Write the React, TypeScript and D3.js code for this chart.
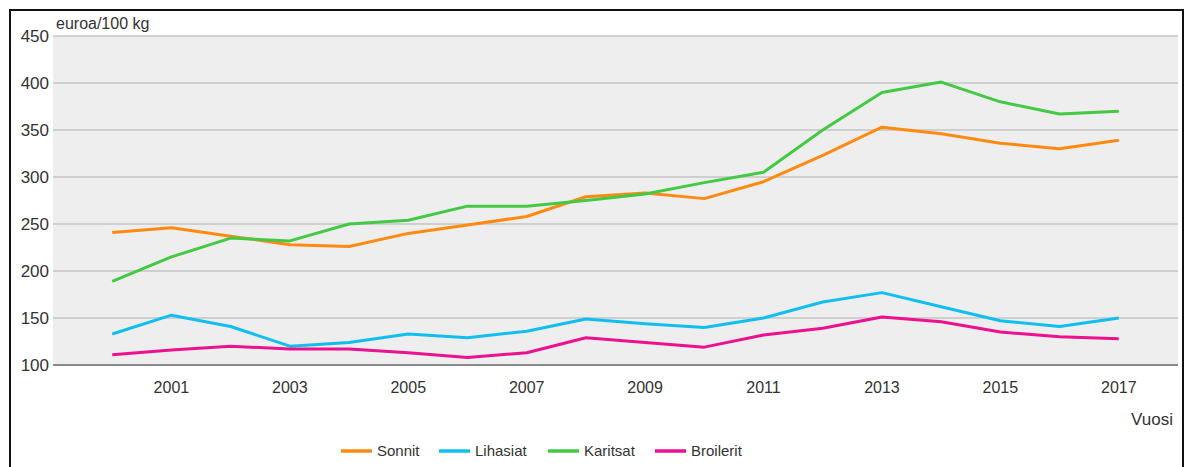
import React from 'react';
import * as d3 from 'd3';

const years = [2000, 2001, 2002, 2003, 2004, 2005, 2006, 2007, 2008, 2009, 2010, 2011, 2012, 2013, 2014, 2015, 2016, 2017];
const sonnit = [241, 246, 237, 228, 226, 240, 249, 258, 279, 283, 277, 295, 323, 353, 346, 336, 330, 339];
const lihasiat = [133, 153, 141, 120, 124, 133, 129, 136, 149, 144, 140, 150, 167, 177, 162, 147, 141, 150];
const karitsat = [189, 215, 235, 232, 250, 254, 269, 269, 275, 282, 294, 305, 350, 390, 401, 380, 367, 370];
const broilerit = [111, 116, 120, 117, 117, 113, 108, 113, 129, 124, 119, 132, 139, 151, 146, 135, 130, 128];
const yTicks = [100, 150, 200, 250, 300, 350, 400, 450];
const xTicks = [2001, 2003, 2005, 2007, 2009, 2011, 2013, 2015, 2017];

const series = [
  { name: 'Sonnit', values: sonnit, color: '#ff8a12' },
  { name: 'Lihasiat', values: lihasiat, color: '#10bff0' },
  { name: 'Karitsat', values: karitsat, color: '#44c944' },
  { name: 'Broilerit', values: broilerit, color: '#ec1190' },
];

const W = 1192;
const H = 467;
const plot = { left: 53, right: 1178, top: 36, bottom: 365 };
const font = '"Liberation Sans", Arial, sans-serif';

export default function App() {
  const x = d3.scaleLinear().domain([1999, 2018]).range([plot.left, plot.right]);
  const y = d3.scaleLinear().domain([100, 450]).range([plot.bottom, plot.top]);
  const line = d3.line<number>()
    .x((_, i) => x(years[i]))
    .y(d => y(d));

  const legendX = [341, 439, 548, 655];

  return (
    <svg width={W} height={H} style={{ position: 'fixed', top: 0, left: 0, display: 'block' }} fontFamily={font}>
      <rect x={0} y={0} width={W} height={H} fill="#ffffff" />
      {/* frame */}
      <rect x={10} y={10} width={1173} height={480} fill="none" stroke="#111" strokeWidth={2} />

      {/* plot background */}
      <rect x={plot.left} y={plot.top} width={plot.right - plot.left} height={plot.bottom - plot.top} fill="#eeeeee" />

      {/* grid */}
      {yTicks.map(t => (
        <g key={t}>
          {t !== 100 && (
            <line x1={plot.left} x2={plot.right} y1={y(t)} y2={y(t)} stroke="#c4c4c4" strokeWidth={1.5} />
          )}
          <text x={49} y={y(t)} dy="0.36em" textAnchor="end" fontSize={17} fill="#333">{t}</text>
        </g>
      ))}
      <line x1={plot.left} x2={plot.right} y1={plot.bottom} y2={plot.bottom} stroke="#8a8a8a" strokeWidth={2} />

      <text x={56} y={29} fontSize={16} fill="#333">euroa/100 kg</text>

      {xTicks.map(t => (
        <text key={t} x={x(t)} y={393} textAnchor="middle" fontSize={16} fill="#333">{t}</text>
      ))}
      <text x={1173} y={425} textAnchor="end" fontSize={17} fill="#333">Vuosi</text>

      {series.map(s => (
        <path key={s.name} d={line(s.values) || ''} fill="none" stroke={s.color} strokeWidth={3} strokeLinejoin="round" />
      ))}

      {series.map((s, i) => (
        <g key={s.name} transform={`translate(${legendX[i]}, 451)`}>
          <line x1={0} x2={31} y1={0} y2={0} stroke={s.color} strokeWidth={3.5} />
          <text x={36} y={0} dy="0.36em" fontSize={15} fill="#333">{s.name}</text>
        </g>
      ))}
    </svg>
  );
}
